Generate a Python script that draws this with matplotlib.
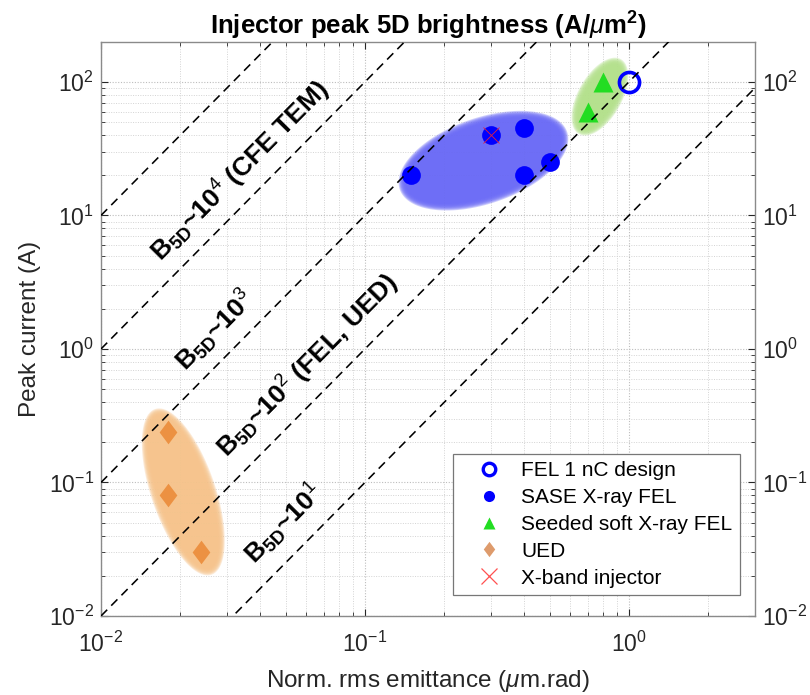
import numpy as np
import matplotlib
matplotlib.use("Agg")
import matplotlib.pyplot as plt
from matplotlib.lines import Line2D
from matplotlib.path import Path

plt.rcParams["font.family"] = ["Liberation Sans", "DejaVu Sans"]
plt.rcParams["mathtext.fontset"] = "custom"
plt.rcParams["mathtext.rm"] = "Liberation Sans"
plt.rcParams["mathtext.it"] = "Liberation Sans:italic"
plt.rcParams["mathtext.bf"] = "Liberation Sans:bold"
plt.rcParams["mathtext.default"] = "regular"

# ---- data -------------------------------------------------------------
fel_design_eps = [1.0]
fel_design_i = [100.0]

sase_eps = [0.15, 0.3, 0.4, 0.4, 0.5]
sase_i = [20.0, 40.0, 45.0, 20.0, 25.0]

seeded_eps = [0.7, 0.8]
seeded_i = [60.0, 100.0]

ued_eps = [0.018, 0.018, 0.024]
ued_i = [0.24, 0.08, 0.030]

xband_eps = [0.3]
xband_i = [40.0]

# constant 5D brightness levels (A/um^2)
brightness_levels = [1e1, 1e2, 1e3, 1e4, 1e5]
level_labels = {
    1e1: r"B$_{5D}$~10$^{\mathrm{1}}$",
    1e2: r"B$_{5D}$~10$^{\mathrm{2}}$ (FEL, UED)",
    1e3: r"B$_{5D}$~10$^{\mathrm{3}}$",
    1e4: r"B$_{5D}$~10$^{\mathrm{4}}$ (CFE TEM)",
}
# label centres (emittance, current)
label_pos = {
    1e1: (0.0493, 0.049),
    1e2: (0.0608, 0.75),
    1e3: (0.027, 1.37),
    1e4: (0.0336, 21.4),
}

# group regions: centre (emittance, current)
region_centers = {"sase": (0.281, 25.7), "seeded": (0.776, 77.6), "ued": (0.0205, 0.085)}

x_limits = (1e-2, 3.0)
y_limits = (1e-2, 200.0)

# ---- figure -----------------------------------------------------------
fig = plt.figure(figsize=(8.1, 6.95), dpi=100)
ax = fig.add_axes([0.1247, 0.1137, 0.8073, 0.8263])
ax.set_xscale("log")
ax.set_yscale("log")
ax.set_xlim(*x_limits)
ax.set_ylim(*y_limits)
ax.set_axisbelow(True)

# shaded group regions with a soft edge (shape given in screen pixels)
region_shapes = {
    "sase": (85, 39.5, 19.0, "#6b6bf6"),
    "seeded": (39.4, 18.3, 60.7, "#b4e18c"),
    "ued": (84, 28.6, 108.8, "#f6c48c"),
}


def soft_ellipse(key, n=9, feather=3.5, alpha=0.33):
    a0, b0, ang, col = region_shapes[key]
    cx, cy = ax.transData.transform(region_centers[key])
    t = np.linspace(0, 2 * np.pi, 240)
    th = np.radians(ang)
    inv = ax.transData.inverted()
    for k in range(n):
        d = feather * (1 - 2 * k / (n - 1))
        a, b = a0 + d, b0 + d
        x = cx + a * np.cos(t) * np.cos(th) - b * np.sin(t) * np.sin(th)
        y = cy + a * np.cos(t) * np.sin(th) + b * np.sin(t) * np.cos(th)
        pts = inv.transform(np.column_stack([x, y]))
        ax.fill(pts[:, 0], pts[:, 1], color=col, alpha=alpha, lw=0, zorder=1)


for key in region_shapes:
    soft_ellipse(key)

# markers
diamond = Path([(0, 1), (0.75, 0), (0, -1), (-0.75, 0), (0, 1)],
               [Path.MOVETO, Path.LINETO, Path.LINETO, Path.LINETO, Path.CLOSEPOLY])

ax.plot(sase_eps, sase_i, "o", color="#0000ff", ms=13.5, mec="none", zorder=3)
ax.plot(seeded_eps, seeded_i, "^", color="#22dd22", ms=14.5, mec="none", zorder=3)
ax.plot(ued_eps, ued_i, marker=diamond, ls="none", color="#ec9142", ms=17, mec="none", zorder=3)
ax.plot(fel_design_eps, fel_design_i, "o", mfc="none", mec="#0000ff", ms=14.5, mew=2.6, zorder=3)
ax.plot(xband_eps, xband_i, "x", color="#e8203a", ms=11, mew=0.6, zorder=5)

# iso-brightness lines  I = B * eps^2
eps_line = np.logspace(np.log10(x_limits[0]), np.log10(x_limits[1]), 200)
for B in brightness_levels:
    ax.plot(eps_line, B * eps_line ** 2, ls=(0, (5.5, 3.6)), color="black", lw=1.15, zorder=4)

p1 = ax.transData.transform((0.01, 1e-4))
p2 = ax.transData.transform((1.0, 1.0))
line_angle = np.degrees(np.arctan2(p2[1] - p1[1], p2[0] - p1[0]))

for B, txt in level_labels.items():
    ex, iy = label_pos[B]
    ax.text(ex, iy, txt, rotation=line_angle, rotation_mode="anchor",
            ha="center", va="center", fontsize=19, fontweight="bold", zorder=6)

# axes styling
ax.grid(True, which="major", ls=(0, (1, 1.5)), color="#bdbdbd", lw=0.8)
ax.grid(True, which="minor", ls=(0, (1, 1.5)), color="#d3d3d3", lw=0.7)
ax.tick_params(which="both", direction="in", top=True, right=True, labelright=True,
               labelsize=16.5, colors="#262626")
ax.tick_params(which="major", length=5, width=0.8)
ax.tick_params(which="minor", length=3, width=0.6)
ax.tick_params(axis="x", pad=11)
ax.tick_params(axis="y", pad=5)
for s in ax.spines.values():
    s.set_color("#8a8a8a")
    s.set_linewidth(1.0)

ax.set_xlabel(r"Norm. rms emittance ($\mathit{\mu}$m.rad)", fontsize=17.5, color="#262626", labelpad=8)
ax.set_ylabel("Peak current (A)", fontsize=17.5, color="#262626", labelpad=6)
ax.set_title(r"Injector peak 5D brightness (A/$\mathit{\mu}$m$^{2}$)", fontsize=18.5,
             fontweight="bold", pad=5)

handles = [
    Line2D([], [], ls="none", marker="o", mfc="none", mec="#0000ff", ms=9, mew=2.4,
           label="FEL 1 nC design"),
    Line2D([], [], ls="none", marker="o", color="#0000ff", ms=8, mec="none",
           label="SASE X-ray FEL"),
    Line2D([], [], ls="none", marker="^", color="#22dd22", ms=9, mec="none",
           label="Seeded soft X-ray FEL"),
    Line2D([], [], ls="none", marker=diamond, color="#de9b6c", ms=11, mec="none",
           label="UED"),
    Line2D([], [], ls="none", marker="x", color="#ff5050", ms=11, mew=0.9,
           label="X-band injector"),
]
leg = ax.legend(handles=handles, loc="lower right", bbox_to_anchor=(0.977, 0.0366),
                borderaxespad=0, fontsize=15, frameon=True, fancybox=False,
                framealpha=1, edgecolor="#777777", labelspacing=0.38,
                handletextpad=0.2, borderpad=0.35, handlelength=2.76)
leg.get_frame().set_linewidth(0.9)
leg.set_zorder(10)

fig.savefig("out.png", dpi=100)
